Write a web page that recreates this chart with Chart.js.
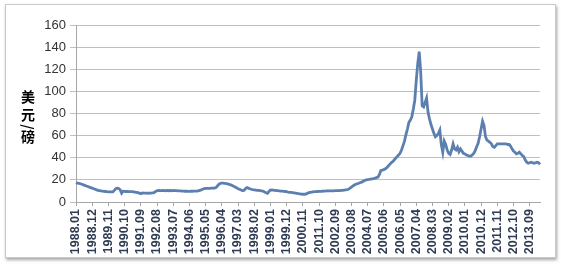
<!DOCTYPE html>
<html>
<head>
<meta charset="utf-8">
<script src="https://cdn.jsdelivr.net/npm/chart.js@4/dist/chart.umd.min.js"></script>
<style>
  html, body { margin: 0; padding: 0; background: #ffffff; }
  #wrap { position: relative; width: 561px; height: 266px; overflow: hidden; }
  #frame { position: absolute; left: 5px; top: 4px; width: 549px; height: 252px;
           border: 1px solid #c8c8c8; box-shadow: 1px 2px 3px rgba(0,0,0,0.35); background: #fff; }
  #c { position: absolute; left: 0; top: 0; }
</style>
</head>
<body>
<div id="wrap">
  <div id="frame"></div>
  <canvas id="c" width="561" height="266"></canvas>
</div>
<script>
// ---- data ----
const startYear = 1988;
const monthCount = 316; // 1988.01 - 2014.04
const categories = [];
for (let i = 0; i < monthCount; i++) {
  const y = startYear + Math.floor(i / 12);
  const m = (i % 12) + 1;
  categories.push(y + '.' + (m < 10 ? '0' + m : m));
}

const tickLabels = ['1988.01','1988.12','1989.11','1990.10','1991.09','1992.08','1993.07','1994.06',
  '1995.05','1996.04','1997.03','1998.02','1999.01','1999.12','2000.11','2011.10','2002.09',
  '2003.08','2004.07','2005.06','2006.05','2007.04','2008.03','2009.02','2010.01','2010.12',
  '2011.11','2012.10','2013.09'];
const tickEvery = 11;

const prices = [
  17.5, 17, 16.8, 16.5, 16, 15.5, 15, 14.5, 14, 13.5, 13, 12.5,            // 1988
  12, 11.5, 11, 10.5, 10.3, 10, 9.8, 9.6, 9.5, 9.3, 9.2, 9.2,              // 1989
  9.1, 9.2, 10.5, 12, 12.5, 12.2, 11, 8, 9.8, 9.6, 9.5, 9.5,               // 1990
  9.4, 9.3, 9.3, 9.2, 9, 8.8, 8.5, 8, 7.5, 8.2, 8, 8,                      // 1991
  8, 7.9, 8, 8.1, 8.3, 8.5, 9.5, 10.2, 10.5, 10.3, 10.2, 10.4,             // 1992
  10.3, 10.2, 10.5, 10.2, 10.4, 10.1, 10.5, 10.3, 10.2, 10.1, 10, 10,      // 1993
  9.9, 9.8, 9.7, 9.7, 9.6, 9.6, 9.7, 9.7, 9.8, 9.8, 9.9, 10,               // 1994
  10.5, 11, 11.6, 12.2, 12.4, 12.4, 12.4, 12.4, 12.5, 12.5, 12.6, 13,      // 1995
  14.5, 16, 16.8, 17, 17, 16.9, 16.7, 16.4, 16, 15.5, 15, 14.2,            // 1996
  13.5, 12.8, 12, 11.5, 10.8, 10.3, 10.5, 12, 13, 12.5, 12, 11.5,          // 1997
  11.2, 11, 10.8, 10.6, 10.5, 10.3, 10, 9.8, 9, 8.3, 7.8, 9.5,             // 1998
  10.8, 11, 10.7, 10.5, 10.3, 10.2, 10, 9.9, 9.8, 9.6, 9.5, 9.3,           // 1999
  9, 8.8, 8.6, 8.4, 8.2, 8, 7.8, 7.5, 7.3, 7.1, 7, 7,                      // 2000
  7.2, 7.8, 8.5, 8.8, 9, 9.2, 9.3, 9.4, 9.5, 9.6, 9.6, 9.7,                // 2001
  9.8, 9.9, 10, 10, 10.1, 10, 10, 10.1, 10.2, 10.2, 10.3, 10.3,            // 2002
  10.5, 10.6, 10.8, 11, 11.2, 11.5, 12.5, 13.5, 14.5, 15.3, 16, 16.5,      // 2003
  17, 17.6, 18, 18.8, 19.5, 20, 20.2, 20.4, 20.7, 21, 21.2, 21.5,          // 2004
  22, 22.5, 25, 28.5, 28.8, 29.2, 30, 31, 32.5, 34, 35.5, 36.5,            // 2005
  38, 39.5, 41, 42.5, 44, 47, 51, 55, 61, 66, 72, 74,                      // 2006
  77, 84, 92, 110, 125, 136, 118, 87, 86, 90, 94, 81,                      // 2007
  75, 70, 66, 62, 59, 60, 62, 65, 52, 45, 55, 52,                          // 2008
  47, 44, 43, 47, 52.5, 48, 47, 49.5, 45.5, 48, 46, 44,                    // 2009
  43.5, 42.5, 42, 41.5, 41.5, 42.5, 44, 46.5, 50, 53, 59, 66,              // 2010
  73, 69, 59, 56, 55, 54, 52.5, 50, 49.5, 51, 52.5, 52.5,                  // 2011
  52.5, 52.5, 52.5, 52.5, 52.5, 52, 52, 50.5, 48, 46, 45, 43.5,            // 2012
  44, 45, 43.5, 42, 41, 38, 36, 35, 35.5, 36, 35.5, 35,                    // 2013
  35.5, 36, 35.5, 34                                                       // 2014
];

const yTitleChars = ['美', '元', '/', '磅'];

// ---- y title plugin (stacked vertical characters) ----
const yTitlePlugin = {
  id: 'yTitle',
  afterDraw(chart) {
    const ctx = chart.ctx;
    const area = chart.chartArea;
    const x = area.left - 48;
    const ys = [area.top + 72, area.top + 90, area.top + 102, area.top + 112];
    ctx.save();
    ctx.fillStyle = '#000';
    ctx.font = 'bold 14px "Noto Sans CJK SC"';
    ctx.textAlign = 'center';
    ctx.textBaseline = 'middle';
    yTitleChars.forEach((ch, i) => {
      if (ch === '/') {
        ctx.save();
        ctx.translate(x, ys[i]);
        ctx.rotate(Math.PI / 2);
        ctx.fillText(ch, 0, 0);
        ctx.restore();
      } else {
        ctx.fillText(ch, x, ys[i]);
      }
    });
    ctx.restore();
  }
};

const axisColor = '#a6a6a6';

new Chart(document.getElementById('c').getContext('2d'), {
  type: 'line',
  data: {
    labels: categories,
    datasets: [{
      data: prices,
      borderColor: '#5b7fae',
      borderWidth: 2.8,
      pointRadius: 0,
      tension: 0,
      fill: false
    }]
  },
  options: {
    responsive: false,
    animation: false,
    devicePixelRatio: 1,
    layout: { padding: { left: 40, right: 21, top: 25, bottom: 0 } },
    plugins: { legend: { display: false }, tooltip: { enabled: false } },
    scales: {
      x: {
        grid: {
          drawOnChartArea: false,
          drawTicks: true,
          tickLength: 4,
          color: (c) => (c.index % tickEvery === 0 ? axisColor : 'rgba(0,0,0,0)')
        },
        border: { color: axisColor, width: 1 },
        ticks: {
          autoSkip: false,
          maxRotation: 90,
          minRotation: 90,
          padding: 3,
          color: '#2f3b52',
          font: { family: '"Liberation Sans"', size: 12.5, weight: 'bold' },
          callback: (v, i) => (i % tickEvery === 0 ? tickLabels[i / tickEvery] : '')
        },
        afterFit: (s) => { s.height = 64; }
      },
      y: {
        min: 0,
        max: 160,
        ticks: {
          stepSize: 20,
          padding: 4,
          color: '#333333',
          font: { family: '"Liberation Sans"', size: 13 }
        },
        grid: { color: '#bfbfbf', tickLength: 6 },
        border: { color: axisColor, width: 1 },
        afterFit: (s) => { s.width = 36; }
      }
    }
  },
  plugins: [yTitlePlugin]
});
</script>
</body>
</html>
